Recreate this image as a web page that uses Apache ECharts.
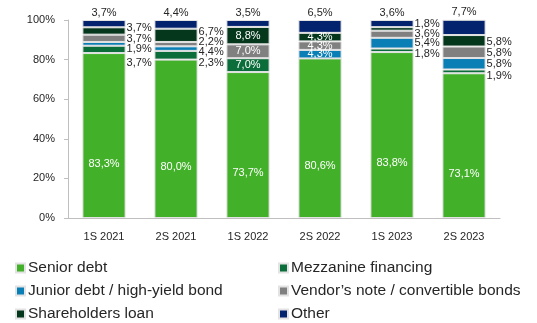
<!DOCTYPE html>
<html>
<head>
<meta charset="utf-8">
<script src="https://cdn.jsdelivr.net/npm/echarts@6/dist/echarts.min.js"></script>
<style>
  html, body { margin: 0; padding: 0; background: #ffffff; }
  #chart { width: 537px; height: 323px; }
</style>
</head>
<body>
<div id="chart"></div>
<script>
// Financing structure by half-year (% of total)
const categories = ['1S 2021', '2S 2021', '1S 2022', '2S 2022', '1S 2023', '2S 2023'];
const seniorDebt = [83.3, 80.0, 73.7, 80.6, 83.8, 73.1];
const mezzanine = [3.7, 4.4, 7.0, 0, 1.8, 1.9];
const juniorDebt = [1.9, 2.3, 0, 4.3, 5.4, 5.8];
const vendorNote = [3.7, 2.2, 7.0, 4.3, 3.6, 5.8];
const shareholdersLoan = [3.7, 6.7, 8.8, 4.3, 1.8, 5.8];
const other = [3.7, 4.4, 3.5, 6.5, 3.6, 7.7];
const yTicks = [0, 20, 40, 60, 80, 100];

// Where the small segment labels go: beside the bar or inside it
const labelMode = ['side', 'side', 'inside', 'inside', 'side', 'side'];
// Vertical nudges (px) for the labels written beside the bar
const sideNudge = {
  shareholders: [-3, -3, 0, 0, -5, 1],
  vendor: [1, -2, 0, 0, 0, 1],
  junior: [5, 14, 0, 0, 0, 0],
  mezz: [14, -3, 0, 0, 4, 5]
};

const FONT = 'Liberation Sans';
const pct = v => v.toFixed(1).replace('.', ',') + '%';

function middleData(values, nudgeKey) {
  return values.map((v, i) => {
    if (!v) return { value: v, label: { show: false } };
    if (labelMode[i] === 'side') {
      return {
        value: v,
        label: {
          show: true, position: 'right', distance: 1,
          offset: [0, sideNudge[nudgeKey][i]],
          color: '#262626'
        }
      };
    }
    return { value: v, label: { show: true, position: 'inside', color: '#ffffff' } };
  });
}

const baseLabel = {
  fontFamily: FONT, fontSize: 11,
  formatter: p => pct(p.value)
};
const barBorder = { borderColor: '#e3e3e3', borderWidth: 1 };

function bar(name, color, data, label) {
  return {
    name, type: 'bar', stack: 'total', barWidth: '60%',
    itemStyle: Object.assign({ color }, barBorder),
    label: Object.assign({}, baseLabel, label || {}),
    data
  };
}

const series = [
  bar('Senior debt', '#43b02a', seniorDebt,
      { show: true, position: 'inside', offset: [0, 28], color: '#ffffff' }),
  bar('Mezzanine financing', '#0b6e3a', middleData(mezzanine, 'mezz')),
  bar('Junior debt / high-yield bond', '#0a7fb6', middleData(juniorDebt, 'junior')),
  bar('Vendor\u2019s note / convertible bonds', '#808080', middleData(vendorNote, 'vendor')),
  bar('Shareholders loan', '#04371c', middleData(shareholdersLoan, 'shareholders')),
  bar('Other', '#03236e', other,
      { show: true, position: 'top', distance: 2, color: '#262626' })
];

const legendText = {
  fontFamily: FONT, fontSize: 15.5, color: '#262626', lineHeight: 14,
  padding: [0, 0, 0, -2]
};
const legendCommon = {
  orient: 'vertical', top: 260, height: 120, itemWidth: 9, itemHeight: 9, itemGap: 7,
  icon: 'rect', textStyle: legendText, padding: 0
};

const chart = echarts.init(document.getElementById('chart'), null, { renderer: 'canvas' });
chart.setOption({
  animation: false,
  backgroundColor: '#ffffff',
  grid: { left: 68, right: 37, top: 20, bottom: 105, containLabel: false },
  legend: [
    Object.assign({ left: 15, data: [series[0].name, series[2].name, series[4].name] }, legendCommon),
    Object.assign({ left: 278, data: [series[1].name, series[3].name, series[5].name] }, legendCommon)
  ],
  xAxis: {
    type: 'category', data: categories,
    axisLine: { lineStyle: { color: '#bfbfbf' } },
    axisTick: { show: false },
    axisLabel: { fontFamily: FONT, fontSize: 11, color: '#262626', margin: 13 }
  },
  yAxis: {
    type: 'value', min: yTicks[0], max: yTicks[yTicks.length - 1], interval: 20,
    axisLine: { show: true, lineStyle: { color: '#bfbfbf' } },
    axisTick: { show: true, length: 4, lineStyle: { color: '#bfbfbf' } },
    splitLine: { show: false },
    axisLabel: { fontFamily: FONT, fontSize: 11, color: '#262626', margin: 13,
                 formatter: v => v + '%' }
  },
  series
});
</script>
</body>
</html>
